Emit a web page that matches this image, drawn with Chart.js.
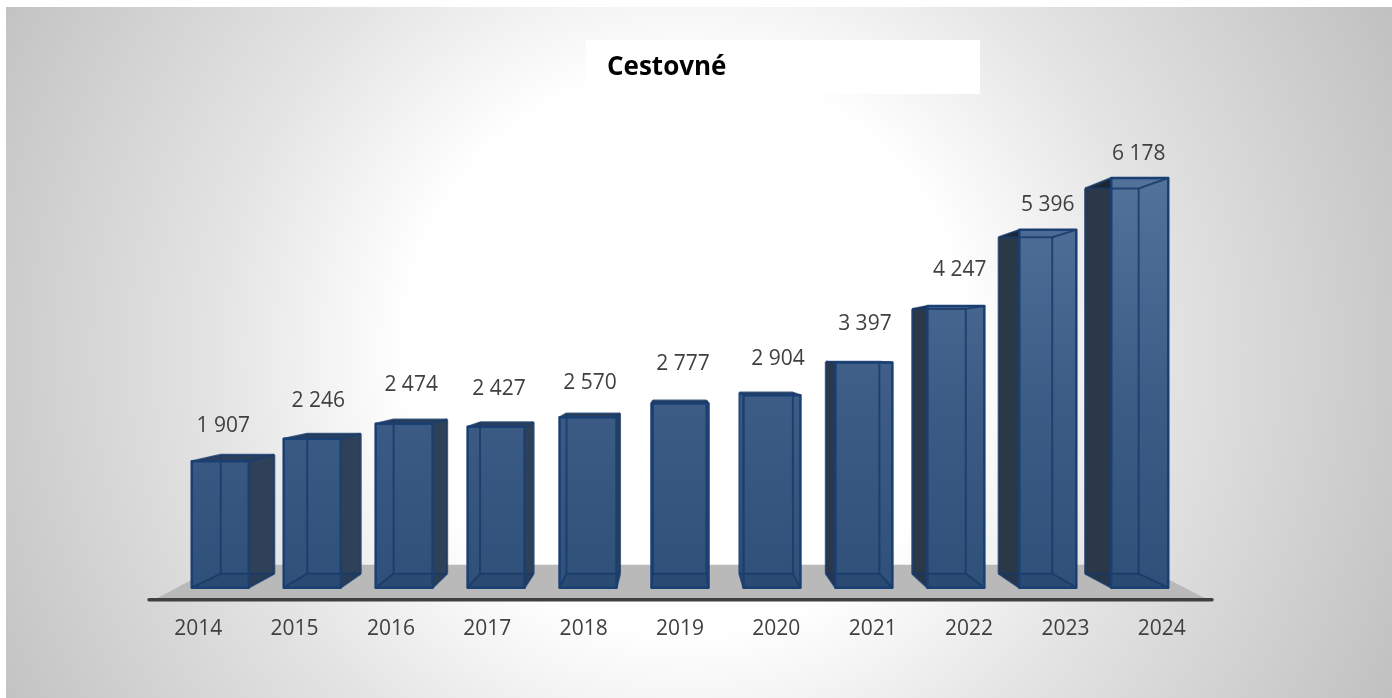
<!DOCTYPE html>
<html><head><meta charset="utf-8">
<style>html,body{margin:0;padding:0;background:#fff;width:1392px;height:698px;overflow:hidden}
#wrap{position:absolute;left:6px;top:7px;width:1386px;height:691px;background:radial-gradient(circle 800px at 680px 345px,#fff 0,#fff 280px,#e4e4e4 470px,#c0c0c0 790px)}
canvas{position:absolute;left:0;top:0}</style>
<script src="https://cdn.jsdelivr.net/npm/chart.js@4"></script></head><body>
<div id="wrap"></div>
<canvas id="c" width="1392" height="698" style="width:1392px;height:698px"></canvas>
<script>
const categories=['2014','2015','2016','2017','2018','2019','2020','2021','2022','2023','2024'];
const values=[1907,2246,2474,2427,2570,2777,2904,3397,4247,5396,6178];
const labelNudgeX=[3,6,7,3,2,3,6,1,4,0,-1];
const labelNudgeY=[35,38,39,38,34,40,36,38,36,25,24];
const fmt=v=>String(v).replace(/\B(?=(\d{3})+$)/g,' ');
const VX=675,VY=353,DEPTH=.94,SPREAD=1.048;
const back=(x,y)=>[VX+DEPTH*(x-VX),VY+DEPTH*(y-VY)];
function poly(ctx,pts,fill,stroke){ctx.beginPath();pts.forEach((p,i)=>i?ctx.lineTo(p[0],p[1]):ctx.moveTo(p[0],p[1]));ctx.closePath();
 if(fill){ctx.fillStyle=fill;ctx.fill()} if(stroke){ctx.strokeStyle=stroke;ctx.stroke()}}
const box3d={id:'box3d',
 beforeDatasetsDraw(chart){
  const {ctx,scales:{x,y}}=chart;const b=y.getPixelForValue(0);
  poly(ctx,[[x.left+6,b+11],[x.left+70,b-23],[x.right-70,b-23],[x.right-4,b+11]],'#b9b9b9');
  const grad=ctx.createLinearGradient(0,y.getPixelForValue(6178),0,b);
  grad.addColorStop(0,'#52729a');grad.addColorStop(.55,'#3c5c86');grad.addColorStop(1,'#2f5079');
  const els=chart.getDatasetMeta(0).data;
  els.forEach((el,i)=>{
   const cx=680+(el.x-680)/SPREAD,w=el.width,l=cx-w/2,r=cx+w/2,t=el.y,bs=el.base;
   const A=[l,bs],B=[r,bs],C=[r,t],D=[l,t];
   const a=back(...A),b2=back(...B),c=back(...C),d=back(...D);
   ctx.save();ctx.lineJoin='round';
   const leftSide=a[0]<l-.5, rightSide=b2[0]>r+.5;
   if(rightSide)poly(ctx,[B,C,c,b2],i<5?'#2e4159':grad);
   if(leftSide)poly(ctx,[A,D,d,a],i>=7?'#2b3847':grad);
   poly(ctx,[D,C,c,d],i>=7?'#46668f':'#2a3f5c');
   if(i>=7)poly(ctx,[D,d,[l,d[1]]],'#1c2733');
   poly(ctx,[A,B,C,D],grad);
   poly(ctx,[A,B,b2,a],'rgba(20,45,80,.14)');
   ctx.lineWidth=2;
   [[a,b2],[b2,c],[c,d],[d,a],[A,a],[B,b2],[C,c],[D,d]].forEach(s=>{ctx.strokeStyle='rgba(24,58,104,.8)';ctx.beginPath();ctx.moveTo(...s[0]);ctx.lineTo(...s[1]);ctx.stroke()});
   ctx.lineWidth=2.5;poly(ctx,[A,B,C,D],null,'#1a3f72');
   ctx.restore();
   ctx.save();ctx.fillStyle='#404040';ctx.font='21px "Open Sans"';ctx.textAlign='center';ctx.textBaseline='middle';
   ctx.fillText(fmt(values[i]),cx+labelNudgeX[i],t-labelNudgeY[i]);ctx.restore();
  });
 },
 afterDraw(chart){
  const {ctx,scales:{x}}=chart;ctx.save();ctx.strokeStyle='#404040';ctx.lineWidth=3.5;ctx.lineCap='round';
  ctx.beginPath();ctx.moveTo(x.left-1,x.top);ctx.lineTo(x.right+2,x.top);ctx.stroke();ctx.restore();
 }};
const titleBox={id:'titleBox',beforeDraw(chart){const c=chart.ctx;c.save();c.fillStyle='#fff';c.fillRect(586,40,394,54);c.restore()}};
new Chart(document.getElementById('c'),{type:'bar',
 data:{labels:categories,datasets:[{data:values,backgroundColor:'rgba(0,0,0,0)',borderWidth:0,barPercentage:.5913,categoryPercentage:1}]},
 plugins:[titleBox,box3d],
 options:{responsive:false,animation:false,
  layout:{padding:{left:150,right:182,top:178,bottom:39}},
  plugins:{legend:{display:false},tooltip:{enabled:false},title:{display:false}},
  scales:{
   x:{grid:{display:false,drawTicks:false},border:{display:true,color:'#404040',width:3},
      ticks:{color:'#404040',font:{family:'"Open Sans"',size:21},padding:17,maxRotation:0}},
   y:{display:false,min:-182,max:6178}}
 }});
</script>
<div style="position:absolute;left:607px;top:47px;font:bold 26px 'Open Sans';color:#000">Cestovné</div>
</body></html>
